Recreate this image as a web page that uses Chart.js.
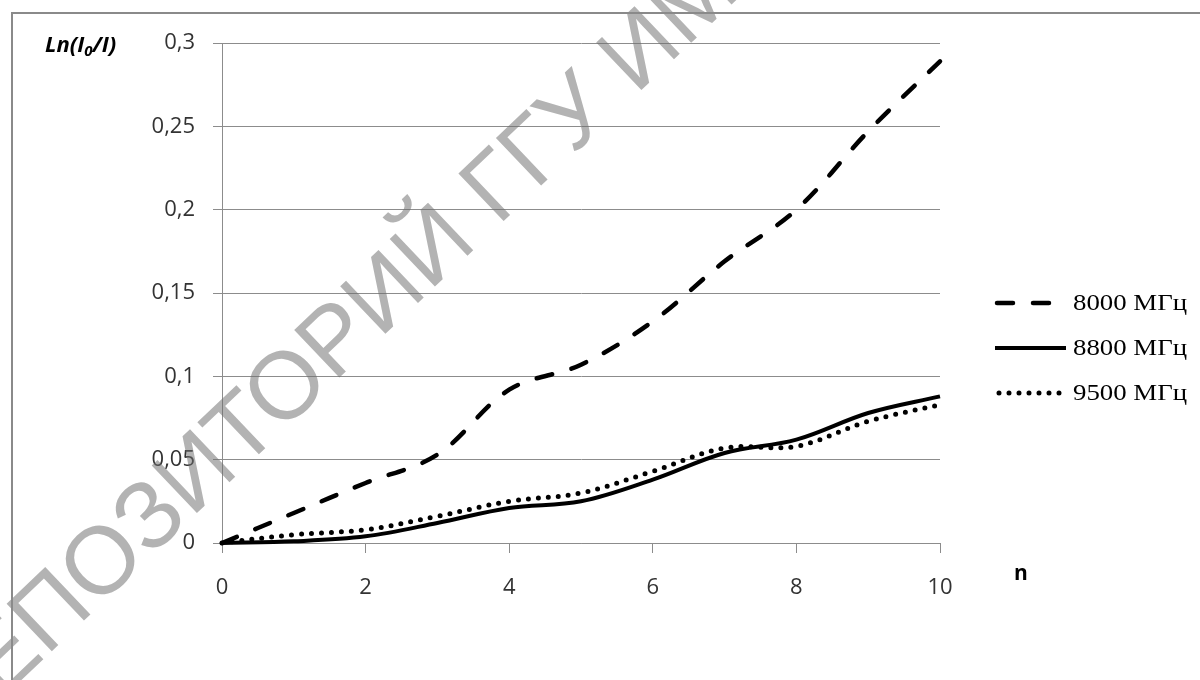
<!DOCTYPE html>
<html>
<head>
<meta charset="utf-8">
<script src="https://cdn.jsdelivr.net/npm/chart.js@4.4.1/dist/chart.umd.min.js"></script>
<style>
  html, body { margin: 0; padding: 0; background: #fff; overflow: hidden; }
  #wrap { position: relative; width: 1200px; height: 680px; }
  #frame { position: absolute; left: 11px; top: 12px; width: 1300px; height: 800px;
           border: 2px solid #8a8a8a; box-sizing: border-box; pointer-events: none; }
  canvas { position: absolute; left: 0; top: 0; }
</style>
</head>
<body>
<div id="wrap">
  <canvas id="c" width="1200" height="680"></canvas>
  <div id="frame"></div>
</div>
<script>
// ---- data ----
const nValues = [0, 1, 2, 3, 4, 5, 6, 7, 8, 9, 10];
const s8000 = [0, 0.018, 0.036, 0.053, 0.092, 0.107, 0.133, 0.169, 0.200, 0.247, 0.289];
const s8800 = [0, 0.001, 0.004, 0.012, 0.021, 0.025, 0.038, 0.054, 0.062, 0.078, 0.088];
const s9500 = [0, 0.005, 0.008, 0.016, 0.025, 0.030, 0.043, 0.057, 0.058, 0.073, 0.083];
const seriesLabels = ['8000 МГц', '8800 МГц', '9500 МГц'];
const yTicks = [0, 0.05, 0.1, 0.15, 0.2, 0.25, 0.3];
const xTicks = [0, 2, 4, 6, 8, 10];
const yTitleParts = ['Ln(I', '0', '/I)'];
const xTitle = 'n';
const watermark = 'РЕПОЗИТОРИЙ ГГУ ИМЕНИ Ф. СКОРИНЫ';

const toPts = arr => nValues.map((n, i) => ({ x: n, y: arr[i] }));

const styles = [
  { borderDash: [16, 20], borderWidth: 4.5, borderCapStyle: 'round' },
  { borderDash: [], borderWidth: 4, borderCapStyle: 'butt' },
  { borderDash: [0, 10], borderWidth: 5, borderCapStyle: 'round' }
];
const seriesData = [s8000, s8800, s9500];

const datasets = seriesData.map((arr, i) => Object.assign({
  label: seriesLabels[i],
  data: toPts(arr),
  borderColor: '#000',
  backgroundColor: '#000',
  pointRadius: 0,
  pointHoverRadius: 0,
  tension: 0.35,
  fill: false,
  clip: 6,
  order: i === 2 ? 0 : 1
}, styles[i]));

const fmt = v => {
  const r = Math.round(v * 100) / 100;
  return String(r).replace('.', ',');
};

const extras = {
  id: 'extras',
  afterDraw(chart) {
    const ctx = chart.ctx;
    // legend
    const rows = [303, 348, 393];
    const sx = [995, 995, 997];
    const ex = [1052, 1066, 1064];
    chart.data.datasets.forEach((ds, i) => {
      ctx.save();
      ctx.strokeStyle = ds.borderColor;
      ctx.lineWidth = ds.borderWidth;
      ctx.lineCap = ds.borderCapStyle;
      ctx.setLineDash(ds.borderDash);
      ctx.beginPath();
      ctx.moveTo(sx[i] + (ds.borderCapStyle === 'round' ? 2 : 0), rows[i]);
      ctx.lineTo(ex[i], rows[i]);
      ctx.stroke();
      ctx.restore();
      ctx.save();
      ctx.fillStyle = '#000';
      ctx.font = '23px "Liberation Serif"';
      ctx.textBaseline = 'middle';
      ctx.textAlign = 'left';
      const w = ctx.measureText(ds.label).width;
      ctx.translate(1073, rows[i] + 1);
      ctx.scale(114 / w, 1);
      ctx.fillText(ds.label, 0, 0);
      ctx.restore();
    });
    // y title with subscript
    ctx.save();
    ctx.fillStyle = '#000';
    ctx.textBaseline = 'alphabetic';
    ctx.font = 'italic bold 22px "Open Sans"';
    let x = 45;
    const base = 52;
    ctx.fillText(yTitleParts[0], x, base);
    x += ctx.measureText(yTitleParts[0]).width;
    ctx.font = 'italic bold 15px "Open Sans"';
    ctx.fillText(yTitleParts[1], x, base + 4);
    x += ctx.measureText(yTitleParts[1]).width;
    ctx.font = 'italic bold 22px "Open Sans"';
    ctx.fillText(yTitleParts[2], x, base);
    // x title
    ctx.font = 'bold 21px "Open Sans"';
    ctx.textAlign = 'center';
    ctx.textBaseline = 'middle';
    ctx.fillText(xTitle, 1021, 574);
    ctx.restore();
    // watermark
    ctx.save();
    const p1 = { x: 102, y: 562 }, p2 = { x: 640, y: 50 };
    const ang = Math.atan2(p2.y - p1.y, p2.x - p1.x);
    ctx.font = '100px "Liberation Sans"';
    const cen = i => ctx.measureText(watermark.slice(0, i)).width + ctx.measureText(watermark[i]).width / 2;
    const i1 = 3, i2 = 16;
    const d100 = cen(i2) - cen(i1);
    const dist = Math.hypot(p2.x - p1.x, p2.y - p1.y);
    const fs = 100 * dist / d100;
    ctx.font = fs + 'px "Liberation Sans"';
    const off = cen(i1);
    ctx.translate(p1.x, p1.y);
    ctx.rotate(ang);
    ctx.fillStyle = 'rgba(110,110,110,0.52)';
    ctx.textBaseline = 'middle';
    ctx.textAlign = 'left';
    ctx.fillText(watermark, -off, fs * 0.04);
    ctx.restore();
  }
};

new Chart(document.getElementById('c'), {
  type: 'line',
  data: { datasets },
  plugins: [extras],
  options: {
    responsive: false,
    animation: false,
    devicePixelRatio: 1,
    layout: { padding: { top: 43, right: 260, left: 0, bottom: 0 } },
    plugins: { legend: { display: false }, tooltip: { enabled: false }, title: { display: false } },
    scales: {
      x: {
        type: 'linear', min: 0, max: 10,
        afterBuildTicks: s => { s.ticks = xTicks.map(v => ({ value: v })); },
        afterFit: s => { s.height = 137; },
        grid: { drawOnChartArea: false, drawTicks: true, tickLength: 10, color: '#8c8c8c', lineWidth: 1 },
        border: { display: true, color: '#8c8c8c', width: 1 },
        ticks: { color: '#333', font: { family: 'Open Sans', size: 22 }, padding: 22, maxRotation: 0,
                 callback: v => fmt(v) }
      },
      y: {
        type: 'linear', min: 0, max: 0.3,
        afterBuildTicks: s => { s.ticks = yTicks.map(v => ({ value: v })); },
        afterFit: s => { s.width = 222; },
        grid: { drawOnChartArea: true, drawTicks: true, tickLength: 9, color: '#8c8c8c', lineWidth: 1 },
        border: { display: true, color: '#8c8c8c', width: 1 },
        ticks: { color: '#333', font: { family: 'Open Sans', size: 22 }, padding: 18,
                 callback: v => fmt(v) }
      }
    }
  }
});
</script>
</body>
</html>
